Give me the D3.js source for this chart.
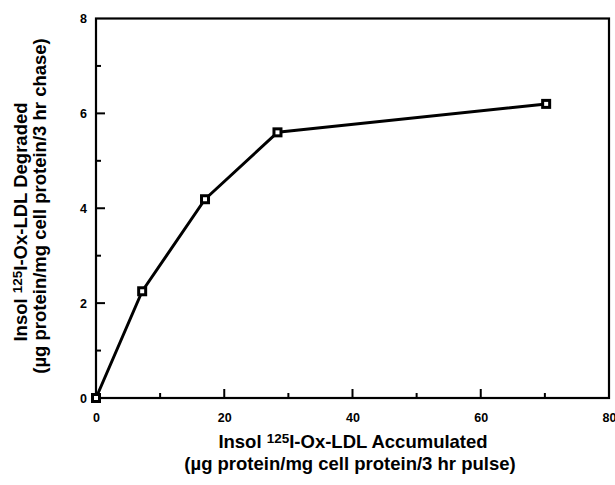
<!DOCTYPE html>
<html>
<head>
<meta charset="utf-8">
<script src="https://cdn.jsdelivr.net/npm/d3@7"></script>
<style>
    body { margin: 0; background: #fff; }
    text { font-family: "Liberation Sans", Arial, sans-serif; }
</style>
</head>
<body>
<svg class="chart"></svg>
<script>
// data
var accumulated = [0, 7.2, 17.0, 28.3, 70.2];
var degraded = [0, 2.25, 4.19, 5.6, 6.2];
var xTicks = [0, 20, 40, 60, 80];
var xMinor = [10, 30, 50, 70];
var yTicks = [0, 2, 4, 6, 8];
var yMinor = [1, 3, 5, 7];

var svgWidth = 615,
    svgHeight = 485;
var margin = { top: 18.5, right: 6, bottom: 87, left: 96 };
var width = svgWidth - margin.left - margin.right;
var height = svgHeight - margin.top - margin.bottom;

var svg = d3.select('.chart')
    .attr('width', svgWidth)
    .attr('height', svgHeight);

var g = svg.append('g')
    .attr('transform', 'translate(' + margin.left + ',' + margin.top + ')');

var x = d3.scaleLinear().domain([0, 80]).range([0, width]);
var y = d3.scaleLinear().domain([0, 8]).range([height, 0]);

var data = accumulated.map(function (d, i) {
    return { x: d, y: degraded[i] };
});

// frame
g.append('rect')
    .attr('width', width)
    .attr('height', height)
    .attr('fill', 'none')
    .attr('stroke', '#000')
    .attr('stroke-width', 2.2);

// tick labels from the axis generators (tick lines drawn below)
var xAxis = g.append('g')
    .attr('transform', 'translate(0,' + height + ')')
    .call(d3.axisBottom(x).tickValues(xTicks).tickSize(0).tickPadding(15).tickFormat(d3.format('d')));
xAxis.select('.domain').remove();
xAxis.selectAll('text').attr('font-size', 12.5).attr('font-weight', 'bold').attr('fill', '#000');

var yAxis = g.append('g')
    .call(d3.axisLeft(y).tickValues(yTicks).tickSize(0).tickPadding(9).tickFormat(d3.format('d')));
yAxis.select('.domain').remove();
yAxis.selectAll('text').attr('font-size', 12.5).attr('font-weight', 'bold').attr('fill', '#000');

// inward ticks
var xMajorInner = xTicks.filter(function (d) { return d > 0 && d < 80; });
var yMajorInner = yTicks.filter(function (d) { return d > 0 && d < 8; });

g.selectAll('.xtick')
    .data(xMajorInner.map(function (d) { return { v: d, len: 9 }; })
        .concat(xMinor.map(function (d) { return { v: d, len: 5 }; })))
    .enter()
    .append('line')
    .attr('class', 'xtick')
    .attr('x1', function (d) { return x(d.v); })
    .attr('x2', function (d) { return x(d.v); })
    .attr('y1', height)
    .attr('y2', function (d) { return height - d.len; })
    .attr('stroke', '#000')
    .attr('stroke-width', 2);

g.selectAll('.ytick')
    .data(yMajorInner.map(function (d) { return { v: d, len: 9 }; })
        .concat(yMinor.map(function (d) { return { v: d, len: 5 }; })))
    .enter()
    .append('line')
    .attr('class', 'ytick')
    .attr('y1', function (d) { return y(d.v); })
    .attr('y2', function (d) { return y(d.v); })
    .attr('x1', 0)
    .attr('x2', function (d) { return d.len; })
    .attr('stroke', '#000')
    .attr('stroke-width', 2);

// line
var line = d3.line()
    .x(function (d) { return x(d.x); })
    .y(function (d) { return y(d.y); });

g.append('path')
    .datum(data)
    .attr('fill', 'none')
    .attr('stroke', '#000')
    .attr('stroke-width', 3)
    .attr('stroke-linejoin', 'round')
    .attr('d', line);

// open square markers with heavy border
g.selectAll('.marker')
    .data(data)
    .enter()
    .append('rect')
    .attr('class', 'marker')
    .attr('x', function (d) { return x(d.x) - 3.5; })
    .attr('y', function (d) { return y(d.y) - 3.5; })
    .attr('width', 7)
    .attr('height', 7)
    .attr('fill', '#fff')
    .attr('stroke', '#000')
    .attr('stroke-width', 3);

var titleSize = 18.5;

// x title
var xTitle = svg.append('text')
    .attr('x', 353)
    .attr('y', 448)
    .attr('text-anchor', 'middle')
    .attr('font-size', titleSize)
    .attr('font-weight', 'bold');
xTitle.append('tspan').text('Insol ');
xTitle.append('tspan').attr('font-size', 13.5).attr('dy', -5).text('125');
xTitle.append('tspan').attr('dy', 5).text('I-Ox-LDL Accumulated');

svg.append('text')
    .attr('x', 350)
    .attr('y', 470)
    .attr('text-anchor', 'middle')
    .attr('font-size', titleSize)
    .attr('font-weight', 'bold')
    .text('(\u00b5g protein/mg cell protein/3 hr pulse)');

// y title
var yTitle = svg.append('text')
    .attr('transform', 'translate(27,222) rotate(-90)')
    .attr('text-anchor', 'middle')
    .attr('font-size', titleSize)
    .attr('font-weight', 'bold');
yTitle.append('tspan').text('Insol ');
yTitle.append('tspan').attr('font-size', 13.5).attr('dy', -5).text('125');
yTitle.append('tspan').attr('dy', 5).text('I-Ox-LDL Degraded');

svg.append('text')
    .attr('transform', 'translate(46,206) rotate(-90)')
    .attr('text-anchor', 'middle')
    .attr('font-size', titleSize)
    .attr('font-weight', 'bold')
    .text('(\u00b5g protein/mg cell protein/3 hr chase)');
</script>
</body>
</html>
